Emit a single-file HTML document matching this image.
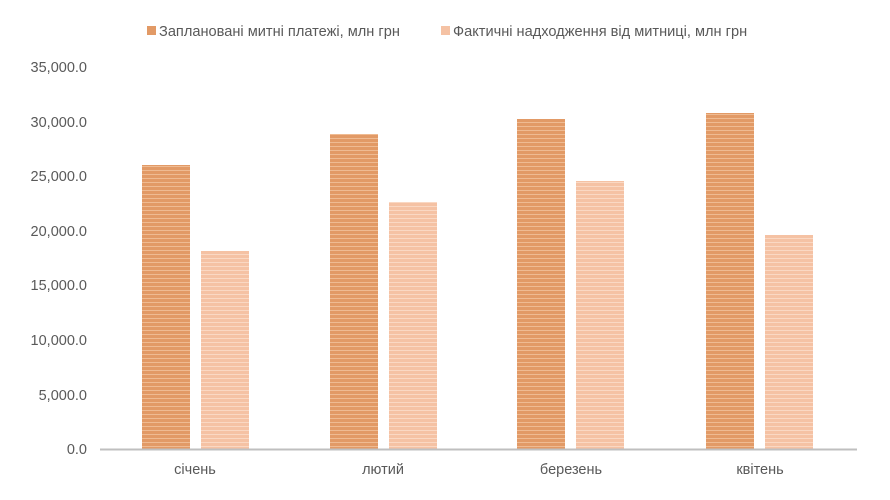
<!DOCTYPE html>
<html><head><meta charset="utf-8"><style>body{margin:0;background:#fff}svg{display:block}</style></head><body>
<svg width="890" height="500" viewBox="0 0 890 500" xmlns="http://www.w3.org/2000/svg" font-family="Liberation Sans, sans-serif" fill="#595959">
<defs>
<pattern id="p1" width="4" height="4" patternUnits="userSpaceOnUse"><rect width="4" height="4" fill="#e29a66"/><rect y="2" width="4" height="1" fill="#efbb92"/></pattern>
<pattern id="p2" width="4" height="4" patternUnits="userSpaceOnUse"><rect width="4" height="4" fill="#f5c2a4"/><rect y="2" width="4" height="1" fill="#fad8c3"/></pattern>
</defs>
<rect x="147" y="26" width="9" height="9" fill="#e29a66"/>
<text x="159" y="36" font-size="14.6">Заплановані митні платежі, млн грн</text>
<rect x="441" y="26" width="9" height="9" fill="#f5c2a4"/>
<text x="453" y="36" font-size="14.6">Фактичні надходження від митниці, млн грн</text>
<g font-size="14.5" text-anchor="end">
<text x="87" y="72">35,000.0</text>
<text x="87" y="127">30,000.0</text>
<text x="87" y="181">25,000.0</text>
<text x="87" y="236">20,000.0</text>
<text x="87" y="290">15,000.0</text>
<text x="87" y="345">10,000.0</text>
<text x="87" y="400">5,000.0</text>
<text x="87" y="454">0.0</text>
</g>
<rect x="142" y="165" width="48" height="284" fill="url(#p1)"/>
<rect x="201" y="251" width="48" height="198" fill="url(#p2)"/>
<rect x="330" y="134" width="48" height="315" fill="url(#p1)"/>
<rect x="389" y="202" width="48" height="247" fill="url(#p2)"/>
<rect x="517" y="119" width="48" height="330" fill="url(#p1)"/>
<rect x="576" y="181" width="48" height="268" fill="url(#p2)"/>
<rect x="706" y="113" width="48" height="336" fill="url(#p1)"/>
<rect x="765" y="235" width="48" height="214" fill="url(#p2)"/>
<line x1="100" y1="449.5" x2="857" y2="449.5" stroke="#bfbfbf" stroke-width="2"/>
<g font-size="14.5" text-anchor="middle">
<text x="195" y="474">січень</text>
<text x="383" y="474">лютий</text>
<text x="571" y="474">березень</text>
<text x="760" y="474">квітень</text>
</g>
</svg>
</body></html>
